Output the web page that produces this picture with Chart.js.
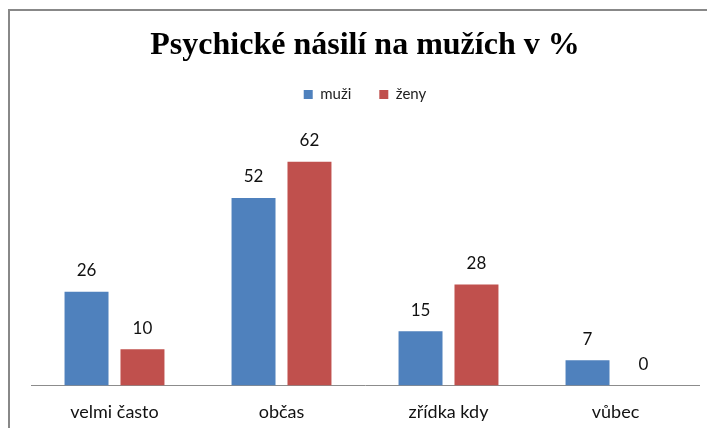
<!DOCTYPE html>
<html>
<head>
<meta charset="utf-8">
<script src="https://cdn.jsdelivr.net/npm/chart.js@4"></script>
<style>
  html, body { margin: 0; padding: 0; background: #fff; }
  #wrap { position: relative; width: 707px; height: 428px; }
  #frame {
    position: absolute; left: 8px; top: 9px; right: 0; bottom: 0;
    border-left: 2px solid #888; border-top: 2px solid #888;
    pointer-events: none;
  }
  canvas { position: absolute; left: 0; top: 0; }
</style>
</head>
<body>
<div id="wrap">
  <canvas id="chart" width="707" height="428"></canvas>
  <div id="frame"></div>
</div>
<script>
const categories = ['velmi často', 'občas', 'zřídka kdy', 'vůbec']
const muzi = [26, 52, 15, 7]
const zeny = [10, 62, 28, 0]
const Y_MAX = 70

const BODY_FONT = 'Lato, "Noto Sans", sans-serif'

// Value labels above every bar (no datalabels plugin available offline)
const barValues = {
  id: 'barValues',
  afterDatasetsDraw(chart) {
    const ctx = chart.ctx
    ctx.save()
    ctx.font = '17px ' + BODY_FONT
    ctx.fillStyle = '#111'
    ctx.textAlign = 'center'
    ctx.textBaseline = 'middle'
    chart.data.datasets.forEach((ds, i) => {
      chart.getDatasetMeta(i).data.forEach((bar, j) => {
        ctx.fillText(String(ds.data[j]), bar.x, bar.y - 21)
      })
    })
    ctx.restore()
  }
}

// Extra space between legend and plot area
const legendGap = {
  id: 'legendGap',
  beforeInit(chart) {
    const fit = chart.legend.fit
    chart.legend.fit = function () {
      fit.bind(chart.legend)()
      this.height += 21
    }
  }
}

new Chart(document.getElementById('chart'), {
  type: 'bar',
  data: {
    labels: categories,
    datasets: [
      { label: 'muži', data: muzi, backgroundColor: '#4F81BD' },
      { label: 'ženy', data: zeny, backgroundColor: '#C0504D' }
    ]
  },
  options: {
    responsive: false,
    animation: false,
    categoryPercentage: 0.67,
    barPercentage: 0.786,
    layout: { padding: { left: 31, right: 8, top: 0, bottom: -11 } },
    scales: {
      x: {
        grid: { display: false, drawTicks: false },
        border: { display: true, color: '#8c8c8c', width: 1 },
        ticks: { color: '#111', padding: 16, font: { family: BODY_FONT, size: 18 } }
      },
      y: { display: false, min: 0, max: Y_MAX }
    },
    plugins: {
      title: {
        display: true,
        text: 'Psychické násilí na mužích v %',
        color: '#000',
        font: { family: '"Liberation Serif", "Times New Roman", serif', size: 32, weight: 'bold', lineHeight: 1 },
        padding: { top: 30, bottom: -3 }
      },
      legend: {
        display: true,
        labels: {
          boxWidth: 9, boxHeight: 9, padding: 28,
          color: '#222',
          font: { family: BODY_FONT, size: 15 }
        }
      },
      tooltip: { enabled: false }
    }
  },
  plugins: [barValues, legendGap]
})
</script>
</body>
</html>
